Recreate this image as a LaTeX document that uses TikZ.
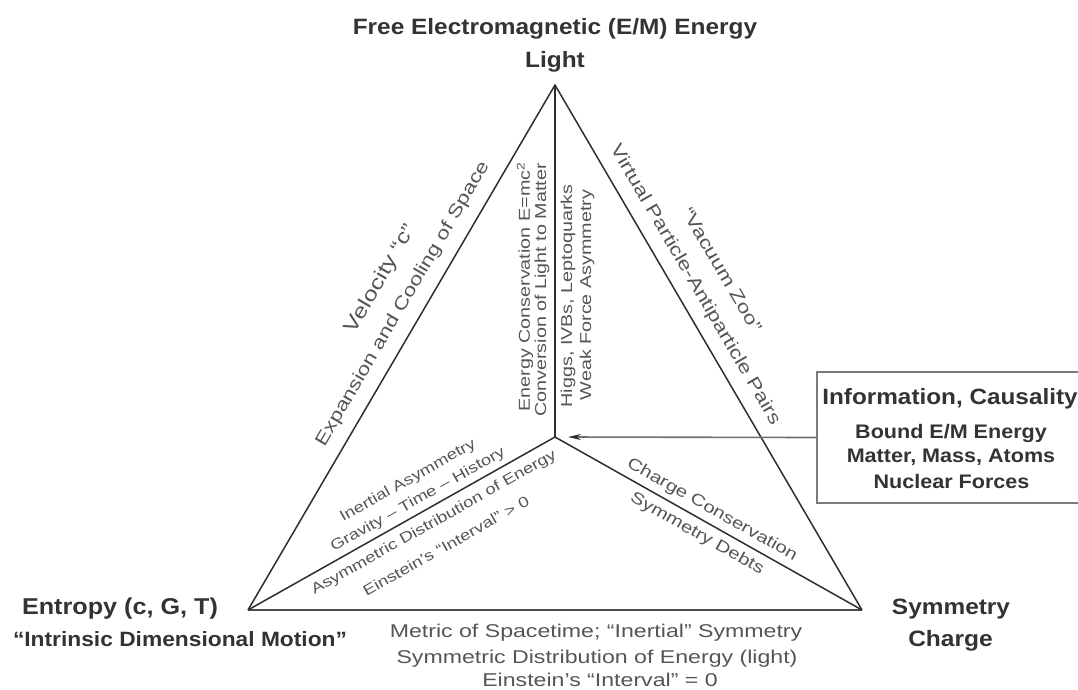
\documentclass[tikz,border=0pt]{standalone}
\usepackage{fontspec}
\setmainfont{Liberation Sans}
\newfontfamily\regf[FakeStretch=1.25]{Liberation Sans}
\newfontfamily\boldf[FakeStretch=1.1]{Liberation Sans Bold}
\usetikzlibrary{arrows.meta}
\definecolor{edgec}{HTML}{2E2E2E}
\definecolor{txtg}{HTML}{555555}
\definecolor{txtb}{HTML}{333333}
\definecolor{boxc}{HTML}{7A7A7A}
\newcommand\myfs[1]{\fontsize{#1}{#1}\selectfont}
\begin{document}
\begin{tikzpicture}[x=1pt,y=-1pt,
  edgeline/.style={draw=edgec, line width=1.5pt},
  baseline edge/.style={draw=edgec!85!white, line width=2.4pt},
  lab/.style={inner sep=0pt, text=txtg},
  blab/.style={inner sep=0pt, text=txtb, anchor=base},
  diagA/.style={lab, rotate=59.7, font=\regf\myfs{18}},
  diagB/.style={lab, rotate=-59.7, font=\regf\myfs{18}},
  vert/.style={lab, rotate=90, font=\regf\myfs{15.8}},
  innerL/.style={lab, rotate=29.4, font=\regf\myfs{14.8}},
  innerR/.style={lab, rotate=-29.4, font=\regf\myfs{16.3}},
  bottomlab/.style={lab, anchor=base, font=\regf\myfs{18.5}},
  infobox/.style={draw=boxc, line width=2pt, minimum width=266pt, minimum height=131pt, inner sep=0pt},
  arrowline/.style={draw=boxc!90!black, line width=1.6pt, -{Stealth[length=13pt,width=6pt,color=edgec]}}
]
\useasboundingbox (0,0) rectangle (1078,689);
\clip (0,0) rectangle (1078,689);

% vertices
\coordinate (A) at (555,85);
\coordinate (L) at (248,610);
\coordinate (R) at (862,610);
\coordinate (C) at (555,437);
\coordinate (tip) at (568,437);

% triangle and inner spokes
\draw[edgeline, line join=miter] (L) -- (A) -- (R);
\draw[baseline edge] (L) -- (R);
\draw[edgeline] (A) -- (C);
\draw[edgeline] (L) -- (C);
\draw[edgeline] (R) -- (C);

% info box and arrow
\node[infobox] (info) at (950,437.5) {};
\draw[arrowline] (info.west) -- (tip);

% vertex labels
\node[blab, font=\boldf\myfs{22.2}] (t1) at (555,34.5) {Free Electromagnetic (E/M) Energy};
\node[blab, font=\boldf\myfs{22.2}] (t2) at (555,67) {Light};
\node[blab, font=\boldf\myfs{22.9}] (e1) at (120,614) {Entropy (c, G, T)};
\node[blab, font=\boldf\myfs{20.7}] (e2) at (180,646) {“Intrinsic Dimensional Motion”};
\node[blab, font=\boldf\myfs{22.2}] (s1) at (951,614) {Symmetry};
\node[blab, font=\boldf\myfs{22.3}] (s2) at (950.5,646) {Charge};

% box texts
\node[blab, font=\boldf\myfs{22.1}] (i1) at (950,404.3) {Information, Causality};
\node[blab, font=\boldf\myfs{19.6}] (i2) at (951,438.3) {Bound E/M Energy};
\node[blab, font=\boldf\myfs{19.6}] (i3) at (951,462.3) {Matter, Mass, Atoms};
\node[blab, font=\boldf\myfs{19.6}] (i4) at (951.5,488.3) {Nuclear Forces};

% left edge
\node[diagA, font=\regf\myfs{20}] (v1) at (381,279) {Velocity “c”};
\node[diagA] (v2) at (403,304) {Expansion and Cooling of Space};
% right edge
\node[diagB] (z1) at (722,270) {“Vacuum Zoo”};
\node[diagB] (z2) at (695,285) {Virtual Particle-Antiparticle Pairs};
% vertical spoke
\node[vert] (c1) at (525,287) {Energy Conservation E=mc\textsuperscript{2}};
\node[vert] (c2) at (542,290) {Conversion of Light to Matter};
\node[vert] (c3) at (568,296) {Higgs, IVBs, Leptoquarks};
\node[vert] (c4) at (587,295) {Weak Force Asymmetry};
% lower-left spoke
\node[innerL] (g1) at (408,481) {Inertial Asymmetry};
\node[innerL] (g2) at (418,500) {Gravity – Time – History};
\node[innerL] (g3) at (434,523) {Asymmetric Distribution of Energy};
\node[innerL] (g4) at (446,546) {Einstein’s “Interval” > 0};
% lower-right spoke
\node[innerR] (q1) at (712,510) {Charge Conservation};
\node[innerR] (q2) at (697,534) {Symmetry Debts};
% bottom edge
\node[bottomlab] (b1) at (596,637.7) {Metric of Spacetime; “Inertial” Symmetry};
\node[bottomlab] (b2) at (597,663) {Symmetric Distribution of Energy (light)};
\node[bottomlab] (b3) at (600,686.7) {Einstein’s “Interval” = 0};
\end{tikzpicture}
\end{document}
